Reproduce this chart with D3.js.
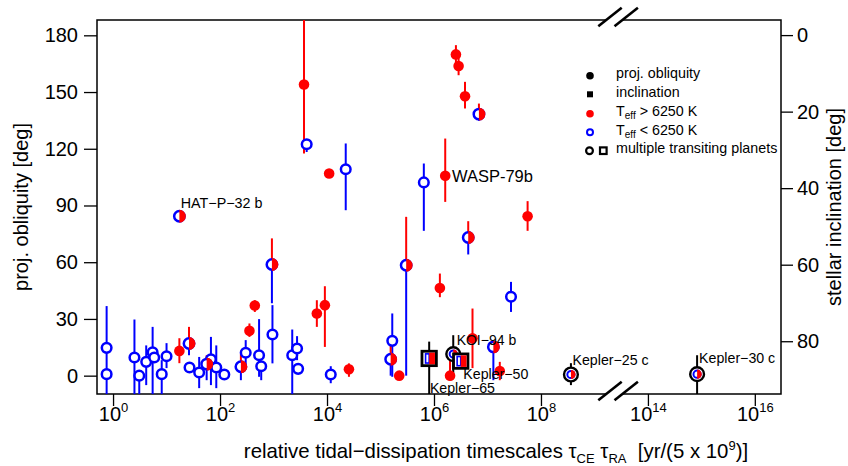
<!DOCTYPE html>
<html><head><meta charset="utf-8">
<script src="https://cdn.jsdelivr.net/npm/d3@7"></script>
<style>body{margin:0;background:#fff}svg text{font-family:"Liberation Sans",Arial,Helvetica,sans-serif;fill:#000}</style>
</head><body><svg id="c" width="848" height="466"></svg>
<script>
// ---------- data (x = log10 of relative timescale, y = projected obliquity in deg) ----------
// Teff > 6250 K (red filled)
const hotLogTau = [1.24, 2.65, 2.55, 3.81, 3.96, 4.41, 5.35, 3.57, 4.04, 6.21, 7.75, 6.41, 6.46, 6.58, 6.11, 6.72, 7.23, 6.30];
const hotPsi    = [13.1, 37.1, 23.7, 32.9, 37.3, 3.4, 0, 154, 106.9, 105.7, 84.3, 169.9, 163.8, 147.8, 46.4, 19.8, 2.5, 0];
const hotLo     = [6.6, 33.7, 20.5, 25.8, 15.2, -0.6, 0, 117.5, 106.9, 91.9, 76.6, 165, 158.9, 141.3, 41.5, 4, -2.4, 0];
const hotHi     = [19.8, 39.9, 27.6, 39.9, 47.3, 6.5, 0, 200, 106.9, 125.4, 92.3, 174.8, 168, 155.4, 54, 35.5, 7.3, 8.2];
// Teff < 6250 K (blue open)
const coolLogTau = [-0.12, -0.12, 0.40, 0.49, 0.62, 0.74, 0.77, 0.91, 1.00, 1.43, 1.61, 1.83, 1.93, 2.08, 2.48, 2.73, 2.77, 2.98, 3.35, 3.44, 3.46, 4.07, 3.62, 4.35, 5.81, 5.22, 7.44];
const coolPsi    = [14.7, 0.8, 9.6, 0, 7.3, 12.3, 9.6, 0.8, 10.3, 4.3, 1.7, 8.7, 4.3, 0.6, 12.1, 10.8, 5, 21.8, 10.8, 14.4, 3.6, 0.6, 122.4, 109.2, 102.2, 18.4, 41.7];
const coolLo     = [0, -20, -20, -20, -5, -10, 9.6, -20, 4, 4.3, -6.6, -5, -6.6, 0.6, 4.7, -0.6, -2.4, 6.5, -10, 8.2, 3.6, -4, 118.3, 87.5, 76.6, -0.6, 33.7];
const coolHi     = [36.8, 0.8, 29.7, 0, 16, 25.8, 9.6, 8.2, 17.2, 4.3, 9.9, 20.5, 16, 0.6, 18.8, 29.9, 5, 37.3, 24.4, 20.9, 3.6, 5, 122.4, 122.8, 112.2, 32.9, 49.6];
// Teff close to 6250 K (half red / half blue)
const midNames  = ["HAT\u2212P\u221232 b", "", "", "", "", "", "", "", "", ""];
const midLogTau = [1.24, 1.42, 1.75, 2.39, 2.97, 5.19, 5.48, 6.64, 6.84, 7.11];
const midPsi    = [84.3, 17, 6.1, 4.7, 58.8, 8.7, 58.4, 73.1, 138.3, 15.2];
const midLo     = [84.3, 10.8, -2.4, -2.4, 38.3, 0, 0, 64.1, 134.8, -2.4];
const midHi     = [84.3, 25.8, 10.8, 11.4, 72.6, 18, 84, 81.7, 143.9, 17];
// multiple transiting planets, projected obliquity (black circles)
const multiNames  = ["KOI\u221294 b", "Kepler\u221225 c", "Kepler\u221230 c"];
const multiLogTau = [6.36, 8.56, 14.92];
const multiPsi    = [11.4, 0.6, 0.8];
const multiLo     = [-0.8, -5, -10];
const multiHi     = [21.4, 6.6, 10.8];
// multiple transiting planets, stellar inclination (black squares, right axis)
const sqNames  = ["Kepler\u221265", "Kepler\u221250"];
const sqLogTau = [5.91, 6.50];
const sqInc    = [84.5, 85.2];
const sqLo     = [80.1, 85.2];
const sqHi     = [95, 85.2];
// annotation for WASP-79b (a hot star point)
const waspIndex = 9;
// ticks
const psiTicks = [0, 30, 60, 90, 120, 150, 180];
const incTicks = [0, 20, 40, 60, 80];
const xTickExp = [0, 2, 4, 6, 8, 14, 16];

// ---------- layout ----------
const RED = "#ff0000", BLUE = "#0000ff";
const L = 97, R = 781, T = 20, B = 394, brkX = 618;
const svg = d3.select("#c");
const x = d3.scaleLinear().domain([-0.30, 9.44, 13.44, 16.49]).range([L, brkX, brkX, R]);
const y = d3.scaleLinear().domain([-9.7, 188.1]).range([B, T]);
const yInc = d3.scaleLinear().domain([0, 90]).range([35.1, 379.5]);

svg.append("defs").append("clipPath").attr("id", "plotclip")
  .append("rect").attr("x", L).attr("y", T).attr("width", R - L).attr("height", B - T);

// ---------- axes ----------
const gl = svg.append("g").attr("transform", `translate(${L},0)`)
  .call(d3.axisLeft(y).tickValues(psiTicks).tickSize(13).tickPadding(6));
gl.select(".domain").remove();
gl.selectAll("line").attr("stroke", "#000").attr("stroke-width", 1.3);
gl.selectAll("text").attr("font-size", 20).attr("font-family", "Liberation Sans, Arial, sans-serif");

const gr = svg.append("g").attr("transform", `translate(${R},0)`)
  .call(d3.axisRight(yInc).tickValues(incTicks).tickSize(12).tickPadding(4));
gr.select(".domain").remove();
gr.selectAll("line").attr("stroke", "#000").attr("stroke-width", 1.3);
gr.selectAll("text").attr("font-size", 20).attr("font-family", "Liberation Sans, Arial, sans-serif");

const gb = svg.append("g").attr("transform", `translate(0,${B})`)
  .call(d3.axisBottom(x).tickValues(xTickExp).tickSize(12).tickFormat(""));
gb.select(".domain").remove();
gb.selectAll("line").attr("stroke", "#000").attr("stroke-width", 1.3);
gb.selectAll(".tick").each(function (d) {
  const t = d3.select(this).append("text").attr("y", 27).attr("text-anchor", "middle")
    .attr("font-size", 20).attr("font-family", "Liberation Sans, Arial, sans-serif");
  t.append("tspan").text("10");
  t.append("tspan").attr("dy", -9).attr("font-size", 13).text(d);
});

// box with break gaps
const gap1 = brkX - 11.8, gap2 = brkX + 4.4;
const box = svg.append("g").attr("stroke", "#000").attr("stroke-width", 1.5).attr("fill", "none");
box.append("path").attr("d", `M${gap1},${T}H${L}V${B}H${gap1}`);
box.append("path").attr("d", `M${gap2},${T}H${R}V${B}H${gap2}`);
[T, B].forEach(edge => {
  [brkX - 8, brkX + 8.2].forEach(cx => {
    svg.append("line").attr("x1", cx - 11.7).attr("y1", edge - 3 + 9.15)
      .attr("x2", cx + 11.7).attr("y2", edge - 3 - 9.15)
      .attr("stroke", "#000").attr("stroke-width", 2.6);
  });
});

// axis titles
svg.append("text").attr("transform", `translate(28,${(T + B) / 2}) rotate(-90)`)
  .attr("text-anchor", "middle").attr("font-size", 20).text("proj. obliquity [deg]");
svg.append("text").attr("transform", `translate(841,${(T + B) / 2}) rotate(-90)`)
  .attr("text-anchor", "middle").attr("font-size", 20).text("stellar inclination [deg]");
const xt = svg.append("text").attr("x", 496).attr("y", 458).attr("text-anchor", "middle").attr("font-size", 20.4);
xt.append("tspan").text("relative tidal\u2212dissipation timescales \u03c4");
xt.append("tspan").attr("dy", 5).attr("font-size", 13).text("CE");
xt.append("tspan").attr("dy", -5).text(" \u03c4");
xt.append("tspan").attr("dy", 5).attr("font-size", 13).text("RA");
xt.append("tspan").attr("dy", -5).text("\u00a0\u00a0[yr/(5 x 10");
xt.append("tspan").attr("dy", -8).attr("font-size", 13).text("9");
xt.append("tspan").attr("dy", 8).text(")]");

// ---------- error bars ----------
const eb = svg.append("g").attr("clip-path", "url(#plotclip)").attr("stroke-width", 2).attr("fill", "none");
function bar(xv, a, b, col, sc) {
  if (a === b) return;
  eb.append("line").attr("x1", x(xv)).attr("x2", x(xv)).attr("y1", sc(a)).attr("y2", sc(b)).attr("stroke", col);
}
hotLogTau.forEach((v, i) => bar(v, hotLo[i], hotHi[i], RED, y));
coolLogTau.forEach((v, i) => bar(v, coolLo[i], coolHi[i], BLUE, y));
midLogTau.forEach((v, i) => { bar(v, midPsi[i], midHi[i], RED, y); bar(v, midLo[i], midPsi[i], BLUE, y); });
multiLogTau.forEach((v, i) => bar(v, multiLo[i], multiHi[i], "#000", y));
sqLogTau.forEach((v, i) => bar(v, sqLo[i], sqHi[i], "#000", yInc));

// ---------- markers ----------
const pts = svg.append("g").attr("clip-path", "url(#plotclip)");
function halfMark(g, rr, sw) {
  g.append("circle").attr("r", rr).attr("fill", "#fff").attr("stroke", BLUE).attr("stroke-width", sw);
  const o = rr + sw / 2;
  g.append("path").attr("d", `M0,${-o}A${o},${o} 0 0 1 0,${o}Z`).attr("fill", RED);
}
coolLogTau.forEach((v, i) => {
  pts.append("circle").attr("cx", x(v)).attr("cy", y(coolPsi[i])).attr("r", 4.8)
    .attr("fill", "#fff").attr("stroke", BLUE).attr("stroke-width", 2.5);
});
hotLogTau.forEach((v, i) => {
  pts.append("circle").attr("cx", x(v)).attr("cy", y(hotPsi[i])).attr("r", 5.3).attr("fill", RED);
});
midLogTau.forEach((v, i) => {
  halfMark(pts.append("g").attr("transform", `translate(${x(v)},${y(midPsi[i])})`), 5.2, 2.5);
});
multiLogTau.forEach((v, i) => {
  const g = pts.append("g").attr("transform", `translate(${x(v)},${y(multiPsi[i])})`);
  g.append("circle").attr("r", 6.9).attr("fill", "#fff").attr("stroke", "#000").attr("stroke-width", 2.4);
  halfMark(g, 3.6, 2);
});
sqLogTau.forEach((v, i) => {
  const g = pts.append("g").attr("transform", `translate(${x(v)},${yInc(sqInc[i])})`);
  g.append("rect").attr("x", -7.2).attr("y", -7.2).attr("width", 14.4).attr("height", 14.4)
    .attr("fill", "#fff").attr("stroke", "#000").attr("stroke-width", 2.8);
  g.append("rect").attr("x", -3.6).attr("y", -4.6).attr("width", 3.6).attr("height", 9.2)
    .attr("fill", "#fff").attr("stroke", BLUE).attr("stroke-width", 1.6);
  g.append("rect").attr("x", 0).attr("y", -5.8).attr("width", 5.8).attr("height", 11.6).attr("fill", RED);
});

// ---------- annotations ----------
const ann = svg.append("g");
function label(txt, px, py, dx, dy, fs) {
  ann.append("text").attr("x", px + dx).attr("y", py + dy).attr("font-size", fs).text(txt);
}
label(midNames[0], x(midLogTau[0]), y(midPsi[0]), 1.4, -8.3, 14.3);
label("WASP-79b", x(hotLogTau[waspIndex]), y(hotPsi[waspIndex]), 6.7, 6, 16.5);
label(multiNames[0], x(multiLogTau[0]), y(multiPsi[0]), 3.4, -9.6, 14);
label(multiNames[1], x(multiLogTau[1]), y(multiPsi[1]), 1.6, -10, 14.2);
label(multiNames[2], x(multiLogTau[2]), y(multiPsi[2]), 2, -11, 14.2);
label(sqNames[0], x(sqLogTau[0]), yInc(sqInc[0]), 0.7, 35, 14.2);
label(sqNames[1], x(sqLogTau[1]), yInc(sqInc[1]), 2.6, 17.6, 14.2);

// ---------- legend ----------
const lg = svg.append("g");
const lx = 590, tx = 616, rows = [75.7, 94.3, 113.7, 132.3, 150.7];
lg.append("circle").attr("cx", lx).attr("cy", rows[0]).attr("r", 3.8).attr("fill", "#000");
lg.append("rect").attr("x", lx - 3).attr("y", rows[1] - 3).attr("width", 6).attr("height", 6).attr("fill", "#000");
lg.append("circle").attr("cx", lx).attr("cy", rows[2]).attr("r", 3.8).attr("fill", RED);
lg.append("circle").attr("cx", lx).attr("cy", rows[3]).attr("r", 3).attr("fill", "#fff").attr("stroke", BLUE).attr("stroke-width", 2);
lg.append("circle").attr("cx", lx - 0.5).attr("cy", rows[4]).attr("r", 3.4).attr("fill", "#fff").attr("stroke", "#000").attr("stroke-width", 2.2);
lg.append("rect").attr("x", lx + 10).attr("y", rows[4] - 3.3).attr("width", 6.6).attr("height", 6.6).attr("fill", "#fff").attr("stroke", "#000").attr("stroke-width", 2.2);
const lt = (i) => lg.append("text").attr("x", tx).attr("y", rows[i] + 2.5).attr("font-size", 14.3);
lt(0).text("proj. obliquity");
lt(1).text("inclination");
[2, 3].forEach((i) => {
  const t = lt(i);
  t.append("tspan").text("T");
  t.append("tspan").attr("dy", 3).attr("font-size", 10).text("eff");
  t.append("tspan").attr("dy", -3).text(i === 2 ? " > 6250 K" : " < 6250 K");
});
lt(4).text("multiple transiting planets");
</script>
</body></html>
